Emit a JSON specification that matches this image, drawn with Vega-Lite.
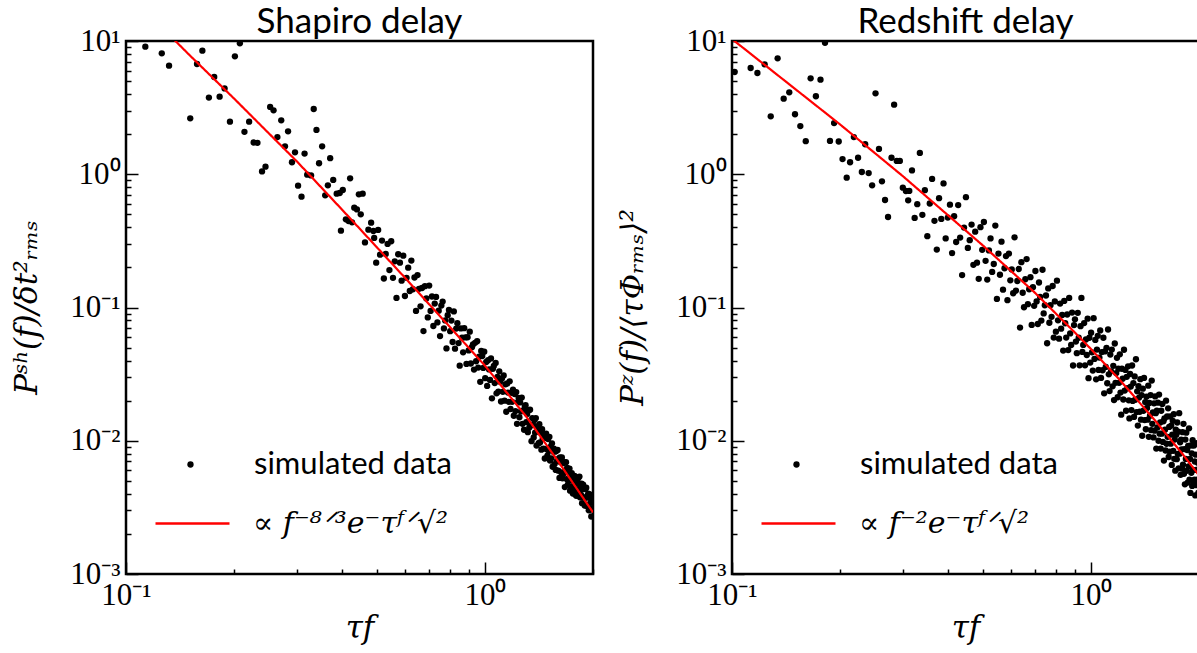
{
"$schema": "https://vega.github.io/schema/vega-lite/v6.json",
"background": "white",
"padding": {"left": 9, "top": 3, "right": 0, "bottom": 0},
"bounds": "flush",
"spacing": 139,
"config": {
  "view": {"stroke": "black", "strokeWidth": 2.5},
  "axis": {"domain": false, "grid": false, "tickColor": "black", "tickWidth": 1.5, "labelColor": "black", "titleColor": "black", "labelFont": "Liberation Serif", "labelFontSize": 31, "titleFont": "DejaVu Serif", "titleFontStyle": "italic", "titleFontWeight": "normal", "titleFontSize": 31, "labelOverlap": false, "labelFlush": false},
  "title": {"font": "Lato", "fontSize": 35, "fontWeight": "normal", "color": "black"}
},
"datasets": {
"shapiro_pts": [
{"tf":0.1132,"P":9.07},{"tf":0.1258,"P":8.08},{"tf":0.1318,"P":6.53},{"tf":0.151,"P":2.63},{"tf":0.1577,"P":6.72},{"tf":0.1632,"P":8.46},{"tf":0.1702,"P":3.76},{"tf":0.1761,"P":5.37},{"tf":0.1823,"P":3.82},{"tf":0.1882,"P":4.41},{"tf":0.1948,"P":2.48},{"tf":0.2011,"P":7.67},{"tf":0.2076,"P":9.6},{"tf":0.2138,"P":2.08},{"tf":0.2203,"P":2.48},{"tf":0.2268,"P":1.73},{"tf":0.2324,"P":1.72},{"tf":0.2393,"P":1.05},{"tf":0.2447,"P":1.14},{"tf":0.2521,"P":3.2},{"tf":0.2577,"P":3.02},{"tf":0.2641,"P":1.9},{"tf":0.2707,"P":2.54},{"tf":0.2773,"P":1.62},{"tf":0.2828,"P":2.1},{"tf":0.29,"P":1.23},{"tf":0.2957,"P":1.46},{"tf":0.3016,"P":0.821},{"tf":0.3083,"P":0.679},{"tf":0.3144,"P":1.43},{"tf":0.3198,"P":0.993},{"tf":0.3278,"P":0.98},{"tf":0.3334,"P":3.09},{"tf":0.3393,"P":2.15},{"tf":0.345,"P":1.21},{"tf":0.3519,"P":1.62},{"tf":0.3589,"P":0.695},{"tf":0.3651,"P":0.826},{"tf":0.3705,"P":1.32},{"tf":0.3778,"P":0.906},{"tf":0.3864,"P":0.715},{"tf":0.3939,"P":0.723},{"tf":0.397,"P":0.377},{"tf":0.4018,"P":0.762},{"tf":0.4098,"P":0.459},{"tf":0.4169,"P":0.446},{"tf":0.4211,"P":0.932},{"tf":0.4263,"P":0.436},{"tf":0.4325,"P":0.561},{"tf":0.4399,"P":0.545},{"tf":0.4454,"P":0.707},{"tf":0.4508,"P":0.5},{"tf":0.4564,"P":0.715},{"tf":0.4632,"P":0.308},{"tf":0.4735,"P":0.384},{"tf":0.4818,"P":0.433},{"tf":0.4889,"P":0.375},
{"tf":0.4914,"P":0.333},{"tf":0.4977,"P":0.217},{"tf":0.504,"P":0.382},{"tf":0.5103,"P":0.249},{"tf":0.5166,"P":0.318},{"tf":0.5229,"P":0.165},{"tf":0.5292,"P":0.252},{"tf":0.5355,"P":0.3},{"tf":0.5418,"P":0.191},{"tf":0.5481,"P":0.314},
{"tf":0.5544,"P":0.167},{"tf":0.5607,"P":0.222},{"tf":0.567,"P":0.118},{"tf":0.5733,"P":0.251},{"tf":0.5796,"P":0.217},{"tf":0.5859,"P":0.159},{"tf":0.5922,"P":0.245},{"tf":0.5985,"P":0.122},{"tf":0.6048,"P":0.167},{"tf":0.6111,"P":0.199},
{"tf":0.6174,"P":0.133},{"tf":0.6237,"P":0.225},{"tf":0.63,"P":0.137},{"tf":0.6363,"P":0.168},{"tf":0.6426,"P":0.0942},{"tf":0.6489,"P":0.175},{"tf":0.6552,"P":0.138},{"tf":0.6615,"P":0.102},{"tf":0.6678,"P":0.14},{"tf":0.6741,"P":0.0665},
{"tf":0.6804,"P":0.1445},{"tf":0.6867,"P":0.117},{"tf":0.693,"P":0.0843},{"tf":0.6993,"P":0.146},{"tf":0.7056,"P":0.0942},{"tf":0.7119,"P":0.121},{"tf":0.7182,"P":0.0726},{"tf":0.7245,"P":0.107},{"tf":0.7308,"P":0.12},{"tf":0.7371,"P":0.0773},
{"tf":0.7434,"P":0.0946},{"tf":0.7497,"P":0.061},{"tf":0.756,"P":0.1033},{"tf":0.7623,"P":0.1107},{"tf":0.7686,"P":0.0697},{"tf":0.7749,"P":0.08},{"tf":0.7812,"P":0.0493},{"tf":0.7875,"P":0.0875},{"tf":0.7938,"P":0.0959},{"tf":0.8001,"P":0.0664},
{"tf":0.8064,"P":0.0798},{"tf":0.8127,"P":0.0551},{"tf":0.819,"P":0.0935},{"tf":0.8253,"P":0.0491},{"tf":0.8316,"P":0.0695},{"tf":0.8379,"P":0.0762},{"tf":0.8442,"P":0.0541},{"tf":0.8505,"P":0.0366},{"tf":0.8568,"P":0.0697},{"tf":0.8631,"P":0.0594},
{"tf":0.8694,"P":0.0461},{"tf":0.8757,"P":0.07},{"tf":0.882,"P":0.0596},{"tf":0.8883,"P":0.0377},{"tf":0.8946,"P":0.0598},{"tf":0.9009,"P":0.0476},{"tf":0.9072,"P":0.0659},{"tf":0.9135,"P":0.038},{"tf":0.9198,"P":0.0504},{"tf":0.9261,"P":0.0528},
{"tf":0.9324,"P":0.0342},{"tf":0.9387,"P":0.0543},{"tf":0.945,"P":0.0395},{"tf":0.9513,"P":0.0559},{"tf":0.9576,"P":0.0354},{"tf":0.9639,"P":0.0427},{"tf":0.9702,"P":0.0277},{"tf":0.9765,"P":0.0472},{"tf":0.9828,"P":0.0432},{"tf":0.9891,"P":0.0352},
{"tf":0.9954,"P":0.0466},{"tf":1.0017,"P":0.0295},{"tf":1.008,"P":0.039},{"tf":1.0143,"P":0.0258},{"tf":1.0206,"P":0.0402},{"tf":1.0269,"P":0.0343},{"tf":1.0332,"P":0.0286},{"tf":1.0395,"P":0.0415},{"tf":1.0458,"P":0.0208},{"tf":1.0521,"P":0.0347},
{"tf":1.0584,"P":0.0364},{"tf":1.0647,"P":0.0271},{"tf":1.071,"P":0.0384},{"tf":1.0773,"P":0.0227},{"tf":1.0836,"P":0.0301},{"tf":1.0899,"P":0.0234},{"tf":1.0962,"P":0.0332},{"tf":1.1025,"P":0.0277},{"tf":1.1088,"P":0.0197},{"tf":1.1151,"P":0.0293},
{"tf":1.1214,"P":0.0233},{"tf":1.1277,"P":0.0309},{"tf":1.134,"P":0.02},{"tf":1.1403,"P":0.0265},{"tf":1.1466,"P":0.0165},{"tf":1.1529,"P":0.0269},{"tf":1.1592,"P":0.023},{"tf":1.1655,"P":0.0196},{"tf":1.1718,"P":0.0279},{"tf":1.1781,"P":0.0173},
{"tf":1.1844,"P":0.0229},{"tf":1.1907,"P":0.0196},{"tf":1.197,"P":0.0242},{"tf":1.2033,"P":0.0154},{"tf":1.2096,"P":0.0224},{"tf":1.2159,"P":0.0167},{"tf":1.2222,"P":0.0232},{"tf":1.2285,"P":0.0134},{"tf":1.2348,"P":0.0195},{"tf":1.2411,"P":0.021},
{"tf":1.2474,"P":0.015},{"tf":1.2537,"P":0.0194},{"tf":1.26,"P":0.0166},{"tf":1.2663,"P":0.0211},{"tf":1.2726,"P":0.0134},{"tf":1.2789,"P":0.0169},{"tf":1.2852,"P":0.0121},{"tf":1.2915,"P":0.018},{"tf":1.2978,"P":0.0185},{"tf":1.3041,"P":0.0138},
{"tf":1.3104,"P":0.0159},{"tf":1.3167,"P":0.0116},{"tf":1.323,"P":0.0169},{"tf":1.3293,"P":0.0126},{"tf":1.3356,"P":0.0171},{"tf":1.3419,"P":0.013},{"tf":1.3482,"P":0.00993},{"tf":1.3545,"P":0.0148},{"tf":1.3608,"P":0.0132},{"tf":1.3671,"P":0.0106},
{"tf":1.3734,"P":0.0143},{"tf":1.3797,"P":0.0115},{"tf":1.386,"P":0.0148},{"tf":1.3923,"P":0.0092},{"tf":1.3986,"P":0.0128},{"tf":1.4049,"P":0.012},{"tf":1.4112,"P":0.00959},{"tf":1.4175,"P":0.0133},{"tf":1.4238,"P":0.00971},{"tf":1.4301,"P":0.0115},
{"tf":1.4364,"P":0.00857},{"tf":1.4427,"P":0.0122},{"tf":1.449,"P":0.0104},{"tf":1.4553,"P":0.00873},{"tf":1.4616,"P":0.0111},{"tf":1.4679,"P":0.00736},{"tf":1.4742,"P":0.0105},{"tf":1.4805,"P":0.0113},{"tf":1.4868,"P":0.00863},{"tf":1.4931,"P":0.00774},
{"tf":1.4994,"P":0.0103},{"tf":1.5057,"P":0.00841},{"tf":1.512,"P":0.0107},{"tf":1.5183,"P":0.0071},{"tf":1.5246,"P":0.00902},{"tf":1.5309,"P":0.00738},{"tf":1.5372,"P":0.00957},{"tf":1.5435,"P":0.00638},{"tf":1.5498,"P":0.00828},{"tf":1.5561,"P":0.00873},
{"tf":1.5624,"P":0.00667},{"tf":1.5687,"P":0.00828},{"tf":1.575,"P":0.00604},{"tf":1.5813,"P":0.00839},{"tf":1.5876,"P":0.00705},{"tf":1.5939,"P":0.00853},{"tf":1.6002,"P":0.00596},{"tf":1.6065,"P":0.00738},{"tf":1.6128,"P":0.00526},{"tf":1.6191,"P":0.0075},
{"tf":1.6254,"P":0.00689},{"tf":1.6317,"P":0.00578},{"tf":1.638,"P":0.0075},{"tf":1.6443,"P":0.00523},{"tf":1.6506,"P":0.00679},{"tf":1.6569,"P":0.00569},{"tf":1.6632,"P":0.0069},{"tf":1.6695,"P":0.00449},{"tf":1.6758,"P":0.00597},{"tf":1.6821,"P":0.00691},
{"tf":1.6884,"P":0.00516},{"tf":1.6947,"P":0.00626},{"tf":1.701,"P":0.00468},{"tf":1.7073,"P":0.00581},{"tf":1.7136,"P":0.00511},{"tf":1.7199,"P":0.00618},{"tf":1.7262,"P":0.00422},{"tf":1.7325,"P":0.00561},{"tf":1.7388,"P":0.0045},{"tf":1.7451,"P":0.0057},
{"tf":1.7514,"P":0.00501},{"tf":1.7577,"P":0.00402},{"tf":1.764,"P":0.00535},{"tf":1.7703,"P":0.00439},{"tf":1.7766,"P":0.00545},{"tf":1.7829,"P":0.00398},{"tf":1.7892,"P":0.00472},{"tf":1.7955,"P":0.00386},{"tf":1.8018,"P":0.00526},{"tf":1.8081,"P":0.00506},
{"tf":1.8144,"P":0.00415},{"tf":1.8207,"P":0.00528},{"tf":1.827,"P":0.00433},{"tf":1.8333,"P":0.00538},{"tf":1.8396,"P":0.00376},{"tf":1.8459,"P":0.00468},{"tf":1.8522,"P":0.00392},{"tf":1.8585,"P":0.00477},{"tf":1.8648,"P":0.0034},{"tf":1.8711,"P":0.00433},
{"tf":1.8774,"P":0.00469},{"tf":1.8837,"P":0.00376},{"tf":1.89,"P":0.00435},{"tf":1.8963,"P":0.00326},{"tf":1.9026,"P":0.00434},{"tf":1.9089,"P":0.00373},{"tf":1.9152,"P":0.00444},{"tf":1.9215,"P":0.00324},{"tf":1.9278,"P":0.00386},{"tf":1.9341,"P":0.00331},
{"tf":1.9404,"P":0.00401},{"tf":1.9467,"P":0.00301},{"tf":1.953,"P":0.00374},{"tf":1.9593,"P":0.00396},{"tf":1.9656,"P":0.00304},{"tf":1.9719,"P":0.00343},{"tf":1.9782,"P":0.0027},{"tf":1.9845,"P":0.00358},{"tf":1.9908,"P":0.00309},{"tf":1.9971,"P":0.00342}
],
"shapiro_line": [
{"tf":0.13,"P":11.6},{"tf":0.1373,"P":10},{"tf":0.15,"P":7.88},{"tf":0.2,"P":3.7},{"tf":0.3,"P":1.24},{"tf":0.4,"P":0.542},{"tf":0.5,"P":0.283},{"tf":0.6104,"P":0.158},{"tf":0.8,"P":0.071},{"tf":1.0,"P":0.0366},{"tf":1.303,"P":0.0152},{"tf":1.6,"P":0.007},{"tf":2.0,"P":0.0029}
],
"redshift_pts": [
{"tf":0.1017,"P":5.85},{"tf":0.1127,"P":6.27},{"tf":0.1177,"P":5.75},{"tf":0.1233,"P":6.68},{"tf":0.1282,"P":2.72},{"tf":0.134,"P":7.41},{"tf":0.1393,"P":3.69},{"tf":0.1444,"P":4.12},{"tf":0.1498,"P":2.82},{"tf":0.155,"P":2.3},{"tf":0.1605,"P":1.77},{"tf":0.1656,"P":5.25},{"tf":0.1713,"P":3.85},{"tf":0.1764,"P":5.13},{"tf":0.1816,"P":9.7},{"tf":0.1875,"P":1.78},{"tf":0.1925,"P":2.42},{"tf":0.1983,"P":1.76},{"tf":0.2032,"P":1.3},{"tf":0.2087,"P":0.943},{"tf":0.2133,"P":1.23},{"tf":0.2185,"P":1.9},{"tf":0.2245,"P":1.33},{"tf":0.23,"P":1.04},{"tf":0.235,"P":1.68},{"tf":0.2403,"P":1.02},{"tf":0.2457,"P":0.826},{"tf":0.2511,"P":4.05},{"tf":0.2567,"P":1.55},{"tf":0.2617,"P":0.885},{"tf":0.2669,"P":0.641},{"tf":0.2721,"P":0.478},{"tf":0.2782,"P":1.33},{"tf":0.2829,"P":3.33},{"tf":0.2878,"P":1.26},{"tf":0.2935,"P":1.26},{"tf":0.2992,"P":0.793},{"tf":0.3051,"P":0.749},{"tf":0.3096,"P":0.637},
{"tf":0.3118,"P":0.75},{"tf":0.3173,"P":1.068},{"tf":0.3227,"P":0.47},{"tf":0.3282,"P":0.596},{"tf":0.3337,"P":1.446},{"tf":0.3391,"P":0.496},{"tf":0.3446,"P":0.759},{"tf":0.3501,"P":0.343},{"tf":0.3556,"P":0.603},{"tf":0.361,"P":0.923},
{"tf":0.3665,"P":0.447},{"tf":0.372,"P":0.272},{"tf":0.3774,"P":0.661},{"tf":0.3829,"P":0.462},{"tf":0.3884,"P":0.854},{"tf":0.3938,"P":0.33},{"tf":0.3993,"P":0.473},{"tf":0.4048,"P":0.591},{"tf":0.4103,"P":0.256},{"tf":0.4157,"P":0.484},
{"tf":0.4212,"P":0.31},{"tf":0.4267,"P":0.587},{"tf":0.4321,"P":0.335},{"tf":0.4376,"P":0.175},{"tf":0.4431,"P":0.398},{"tf":0.4485,"P":0.673},{"tf":0.454,"P":0.28},{"tf":0.4595,"P":0.32},{"tf":0.465,"P":0.419},{"tf":0.4704,"P":0.209},
{"tf":0.4759,"P":0.371},{"tf":0.4814,"P":0.217},{"tf":0.4868,"P":0.164},{"tf":0.4923,"P":0.401},{"tf":0.4978,"P":0.271},{"tf":0.5032,"P":0.438},{"tf":0.5087,"P":0.224},{"tf":0.5142,"P":0.162},{"tf":0.5197,"P":0.268},{"tf":0.5251,"P":0.33},
{"tf":0.5306,"P":0.185},{"tf":0.5361,"P":0.212},{"tf":0.5415,"P":0.412},{"tf":0.547,"P":0.116},{"tf":0.5525,"P":0.254},{"tf":0.5579,"P":0.176},{"tf":0.5634,"P":0.312},{"tf":0.5689,"P":0.136},{"tf":0.5744,"P":0.197},{"tf":0.5798,"P":0.243},
{"tf":0.5853,"P":0.1135},{"tf":0.5908,"P":0.254},{"tf":0.5962,"P":0.16},{"tf":0.6017,"P":0.193},{"tf":0.6072,"P":0.128},{"tf":0.6126,"P":0.336},{"tf":0.6181,"P":0.134},{"tf":0.6236,"P":0.158},{"tf":0.6291,"P":0.1945},{"tf":0.6345,"P":0.0707},
{"tf":0.64,"P":0.219},{"tf":0.6455,"P":0.129},{"tf":0.6509,"P":0.1004},{"tf":0.6564,"P":0.163},{"tf":0.6619,"P":0.231},{"tf":0.6673,"P":0.106},{"tf":0.6728,"P":0.137},{"tf":0.6783,"P":0.169},{"tf":0.6838,"P":0.074},{"tf":0.6892,"P":0.142},
{"tf":0.6947,"P":0.103},{"tf":0.7002,"P":0.188},{"tf":0.7056,"P":0.111},{"tf":0.7111,"P":0.0752},{"tf":0.7166,"P":0.154},{"tf":0.722,"P":0.12},{"tf":0.7275,"P":0.0798},{"tf":0.733,"P":0.192},{"tf":0.7385,"P":0.0903},{"tf":0.7439,"P":0.104},
{"tf":0.7494,"P":0.123},{"tf":0.7549,"P":0.0539},{"tf":0.7603,"P":0.139},{"tf":0.7658,"P":0.0768},{"tf":0.7713,"P":0.104},{"tf":0.7767,"P":0.0851},{"tf":0.7822,"P":0.145},{"tf":0.7877,"P":0.0595},{"tf":0.7932,"P":0.111},{"tf":0.7986,"P":0.0659},
{"tf":0.8041,"P":0.159},{"tf":0.8096,"P":0.0801},{"tf":0.815,"P":0.0584},{"tf":0.8205,"P":0.107},{"tf":0.826,"P":0.0694},{"tf":0.8314,"P":0.0879},{"tf":0.8369,"P":0.0475},{"tf":0.8424,"P":0.112},{"tf":0.8479,"P":0.0762},{"tf":0.8533,"P":0.0595},
{"tf":0.8588,"P":0.0886},{"tf":0.8643,"P":0.0479},{"tf":0.8697,"P":0.118},{"tf":0.8752,"P":0.0639},{"tf":0.8807,"P":0.0523},{"tf":0.8861,"P":0.0916},{"tf":0.8916,"P":0.0367},{"tf":0.8971,"P":0.0738},{"tf":0.9026,"P":0.0815},{"tf":0.908,"P":0.0555},
{"tf":0.9135,"P":0.0454},{"tf":0.919,"P":0.0912},{"tf":0.9244,"P":0.0593},{"tf":0.9299,"P":0.0368},{"tf":0.9354,"P":0.0724},{"tf":0.9408,"P":0.118},{"tf":0.9463,"P":0.0464},{"tf":0.9518,"P":0.0524},{"tf":0.9573,"P":0.0764},{"tf":0.9627,"P":0.0368},
{"tf":0.9682,"P":0.0575},{"tf":0.9737,"P":0.044},{"tf":0.9791,"P":0.0825},{"tf":0.9846,"P":0.0295},{"tf":0.9901,"P":0.0593},{"tf":0.9955,"P":0.0386},{"tf":1.001,"P":0.0646},{"tf":1.0065,"P":0.0461},{"tf":1.012,"P":0.0336},{"tf":1.0174,"P":0.0832},
{"tf":1.0229,"P":0.0411},{"tf":1.0284,"P":0.0571},{"tf":1.0338,"P":0.0289},{"tf":1.0393,"P":0.0483},{"tf":1.0448,"P":0.0613},{"tf":1.0502,"P":0.034},{"tf":1.0557,"P":0.0421},{"tf":1.0612,"P":0.0673},{"tf":1.0667,"P":0.0296},{"tf":1.0721,"P":0.0463},
{"tf":1.0776,"P":0.0338},{"tf":1.0831,"P":0.0593},{"tf":1.0885,"P":0.0227},{"tf":1.094,"P":0.0468},{"tf":1.0995,"P":0.0358},{"tf":1.1049,"P":0.0498},{"tf":1.1104,"P":0.027},{"tf":1.1159,"P":0.0684},{"tf":1.1214,"P":0.0315},{"tf":1.1268,"P":0.0236},
{"tf":1.1323,"P":0.0443},{"tf":1.1378,"P":0.0332},{"tf":1.1432,"P":0.0483},{"tf":1.1487,"P":0.0256},{"tf":1.1542,"P":0.0365},{"tf":1.1596,"P":0.0202},{"tf":1.1651,"P":0.0537},{"tf":1.1706,"P":0.0272},{"tf":1.1761,"P":0.0322},{"tf":1.1815,"P":0.0419},
{"tf":1.187,"P":0.0212},{"tf":1.1925,"P":0.0347},{"tf":1.1979,"P":0.0272},{"tf":1.2034,"P":0.0445},{"tf":1.2089,"P":0.023},{"tf":1.2143,"P":0.0157},{"tf":1.2198,"P":0.0347},{"tf":1.2253,"P":0.0292},{"tf":1.2308,"P":0.0204},{"tf":1.2362,"P":0.0482},
{"tf":1.2417,"P":0.0238},{"tf":1.2472,"P":0.034},{"tf":1.2526,"P":0.0168},{"tf":1.2581,"P":0.0302},{"tf":1.2636,"P":0.0248},{"tf":1.269,"P":0.0362},{"tf":1.2745,"P":0.0201},{"tf":1.28,"P":0.0147},{"tf":1.2855,"P":0.0317},{"tf":1.2909,"P":0.0255},
{"tf":1.2964,"P":0.017},{"tf":1.3019,"P":0.0367},{"tf":1.3073,"P":0.0199},{"tf":1.3128,"P":0.0271},{"tf":1.3183,"P":0.0151},{"tf":1.3237,"P":0.0304},{"tf":1.3292,"P":0.0203},{"tf":1.3347,"P":0.0409},{"tf":1.3402,"P":0.0164},{"tf":1.3456,"P":0.0235},
{"tf":1.3511,"P":0.013},{"tf":1.3566,"P":0.0257},{"tf":1.362,"P":0.0211},{"tf":1.3675,"P":0.0165},{"tf":1.373,"P":0.029},{"tf":1.3784,"P":0.0144},{"tf":1.3839,"P":0.022},{"tf":1.3894,"P":0.0109},{"tf":1.3949,"P":0.0246},{"tf":1.4003,"P":0.0168},
{"tf":1.4058,"P":0.0296},{"tf":1.4113,"P":0.0143},{"tf":1.4167,"P":0.0195},{"tf":1.4222,"P":0.0122},{"tf":1.4277,"P":0.0214},{"tf":1.4331,"P":0.0176},{"tf":1.4386,"P":0.0144},{"tf":1.4441,"P":0.0259},{"tf":1.4496,"P":0.0107},{"tf":1.455,"P":0.0192},
{"tf":1.4605,"P":0.0154},{"tf":1.466,"P":0.022},{"tf":1.4714,"P":0.012},{"tf":1.4769,"P":0.0283},{"tf":1.4824,"P":0.0134},{"tf":1.4878,"P":0.0163},{"tf":1.4933,"P":0.0106},{"tf":1.4988,"P":0.0191},{"tf":1.5043,"P":0.0119},{"tf":1.5097,"P":0.0215},
{"tf":1.5152,"P":0.0161},{"tf":1.5207,"P":0.00874},{"tf":1.5261,"P":0.0168},{"tf":1.5316,"P":0.0126},{"tf":1.5371,"P":0.0193},{"tf":1.5425,"P":0.01},{"tf":1.548,"P":0.0222},{"tf":1.5535,"P":0.0113},{"tf":1.559,"P":0.0137},{"tf":1.5644,"P":0.00874},
{"tf":1.5699,"P":0.0168},{"tf":1.5754,"P":0.0113},{"tf":1.5808,"P":0.0189},{"tf":1.5863,"P":0.0098},{"tf":1.5918,"P":0.014},{"tf":1.5972,"P":0.0071},{"tf":1.6027,"P":0.0147},{"tf":1.6082,"P":0.0121},{"tf":1.6137,"P":0.00845},{"tf":1.6191,"P":0.02},
{"tf":1.6246,"P":0.00949},{"tf":1.6301,"P":0.0152},{"tf":1.6355,"P":0.0107},{"tf":1.641,"P":0.0175},{"tf":1.6465,"P":0.00755},{"tf":1.6519,"P":0.0127},{"tf":1.6574,"P":0.00828},{"tf":1.6629,"P":0.0152},{"tf":1.6684,"P":0.00951},{"tf":1.6738,"P":0.013},
{"tf":1.6793,"P":0.00659},{"tf":1.6848,"P":0.0111},{"tf":1.6902,"P":0.0141},{"tf":1.6957,"P":0.0084},{"tf":1.7012,"P":0.0158},{"tf":1.7066,"P":0.00732},{"tf":1.7121,"P":0.0102},{"tf":1.7176,"P":0.00596},{"tf":1.7231,"P":0.0121},{"tf":1.7285,"P":0.0111},
{"tf":1.734,"P":0.00727},{"tf":1.7395,"P":0.0137},{"tf":1.7449,"P":0.00798},{"tf":1.7504,"P":0.0117},{"tf":1.7559,"P":0.00621},{"tf":1.7613,"P":0.0161},{"tf":1.7668,"P":0.008},{"tf":1.7723,"P":0.00975},{"tf":1.7778,"P":0.00555},{"tf":1.7832,"P":0.0102},
{"tf":1.7887,"P":0.00861},{"tf":1.7942,"P":0.00617},{"tf":1.7996,"P":0.0116},{"tf":1.8051,"P":0.00662},{"tf":1.8106,"P":0.0134},{"tf":1.816,"P":0.00565},{"tf":1.8215,"P":0.00866},{"tf":1.827,"P":0.00471},{"tf":1.8325,"P":0.0102},{"tf":1.8379,"P":0.00731},
{"tf":1.8434,"P":0.0115},{"tf":1.8489,"P":0.00595},{"tf":1.8543,"P":0.00851},{"tf":1.8598,"P":0.00485},{"tf":1.8653,"P":0.00914},{"tf":1.8707,"P":0.00641},{"tf":1.8762,"P":0.0124},{"tf":1.8817,"P":0.0051},{"tf":1.8872,"P":0.0073},{"tf":1.8926,"P":0.00406},
{"tf":1.8981,"P":0.00921},{"tf":1.9036,"P":0.00575},{"tf":1.909,"P":0.00804},{"tf":1.9145,"P":0.00458},{"tf":1.92,"P":0.0101},{"tf":1.9254,"P":0.00605},{"tf":1.9309,"P":0.00487},{"tf":1.9364,"P":0.00919},{"tf":1.9419,"P":0.00511},{"tf":1.9473,"P":0.00699},
{"tf":1.9528,"P":0.00389},{"tf":1.9583,"P":0.00786},{"tf":1.9637,"P":0.00604},{"tf":1.9692,"P":0.00464},{"tf":1.9747,"P":0.0096},{"tf":1.9801,"P":0.00511},{"tf":1.9856,"P":0.00682},{"tf":1.9911,"P":0.00407},{"tf":1.9966,"P":0.0061}
],
"redshift_line": [
{"tf":0.1,"P":10.34},{"tf":0.2,"P":2.365},{"tf":0.3,"P":0.962},{"tf":0.5,"P":0.292},{"tf":0.7,"P":0.1282},{"tf":0.9,"P":0.0653},{"tf":1.0,"P":0.0488},{"tf":1.2,"P":0.02883},{"tf":1.5,"P":0.01446},{"tf":1.8,"P":0.00795},{"tf":2.0,"P":0.0055}
]
},
"resolve": {"scale": {"color": "independent", "strokeDash": "independent", "x": "independent", "y": "independent"}, "legend": {"color": "independent", "strokeDash": "independent"}},
"hconcat": [
{
  "width": 467, "height": 533,
  "title": {"text": "Shapiro delay", "baseline": "alphabetic", "offset": -43},
  "layer": [
    {
      "data": {"name": "shapiro_pts"},
      "mark": {"type": "circle", "size": 40, "opacity": 1, "clip": true},
      "encoding": {
        "x": {"field": "tf", "type": "quantitative", "scale": {"type": "log", "domain": [0.1, 2], "nice": false},
          "axis": {"values": [0.1,0.2,0.3,0.4,0.5,0.6,0.7,0.8,0.9,1,2], "labelExpr": "datum.value == 1 ? '10⁰' : datum.value == 0.1 ? '10⁻¹' : ''", "tickSize": {"condition": {"test": "datum.value == 1 || datum.value == 0.1", "value": -12}, "value": -5}, "labelPadding": 18, "title": "τf", "titlePadding": -4}},
        "y": {"field": "P", "type": "quantitative", "scale": {"type": "log", "domain": [0.001, 10], "nice": false},
          "axis": {"values": [0.001,0.002,0.003,0.004,0.005,0.006,0.007,0.008,0.009,0.01,0.02,0.03,0.04,0.05,0.06,0.07,0.08,0.09,0.1,0.2,0.3,0.4,0.5,0.6,0.7,0.8,0.9,1,2,3,4,5,6,7,8,9,10],
            "labelExpr": "datum.value == 10 ? '10¹' : datum.value == 1 ? '10⁰' : datum.value == 0.1 ? '10⁻¹' : datum.value == 0.01 ? '10⁻²' : datum.value == 0.001 ? '10⁻³' : ''",
            "tickSize": {"condition": {"test": "indexof([0.001,0.01,0.1,1,10], datum.value) >= 0", "value": -12}, "value": -5},
            "labelPadding": 18, "title": "Pˢʰ(f)/δt²ᵣₘₛ", "titleX": -114, "titleY": 266, "titleBaseline": "top", "titleAngle": 270}},
        "color": {"datum": "simulated data", "type": "nominal",
          "scale": {"domain": ["simulated data"], "range": ["black"]},
          "legend": {"orient": "none", "legendX": 49, "legendY": 408, "title": null, "padding": 0, "labelFont": "Lato", "labelFontSize": 31, "labelLimit": 500, "labelOffset": 48, "symbolSize": 40, "symbolType": "circle", "symbolFillColor": "black", "symbolStrokeWidth": 0, "labelColor": "black"}}
      }
    },
    {
      "data": {"name": "shapiro_line"},
      "mark": {"type": "line", "color": "red", "strokeWidth": 2.2, "clip": true},
      "encoding": {
        "x": {"field": "tf", "type": "quantitative"},
        "y": {"field": "P", "type": "quantitative"},
        "strokeDash": {"datum": "∝ f⁻⁸ᐟ³e⁻τᶠᐟ√²", "type": "nominal",
          "scale": {"domain": ["∝ f⁻⁸ᐟ³e⁻τᶠᐟ√²"], "range": [[1, 0]]},
          "legend": {"orient": "none", "legendX": 28, "legendY": 444, "title": null, "padding": 0, "labelFont": "DejaVu Serif", "labelFontStyle": "italic", "labelFontSize": 30, "labelLimit": 500, "labelOffset": 22, "symbolSize": 5476, "symbolType": "stroke", "symbolStrokeColor": "red", "symbolStrokeWidth": 2.5, "labelColor": "black"}}
      }
    }
  ]
},
{
  "width": 467, "height": 533,
  "title": {"text": "Redshift delay", "baseline": "alphabetic", "offset": -43},
  "layer": [
    {
      "data": {"name": "redshift_pts"},
      "mark": {"type": "circle", "size": 40, "opacity": 1, "clip": true},
      "encoding": {
        "x": {"field": "tf", "type": "quantitative", "scale": {"type": "log", "domain": [0.1, 2], "nice": false},
          "axis": {"values": [0.1,0.2,0.3,0.4,0.5,0.6,0.7,0.8,0.9,1,2], "labelExpr": "datum.value == 1 ? '10⁰' : datum.value == 0.1 ? '10⁻¹' : ''", "tickSize": {"condition": {"test": "datum.value == 1 || datum.value == 0.1", "value": -12}, "value": -5}, "labelPadding": 18, "title": "τf", "titlePadding": -4}},
        "y": {"field": "P", "type": "quantitative", "scale": {"type": "log", "domain": [0.001, 10], "nice": false},
          "axis": {"values": [0.001,0.002,0.003,0.004,0.005,0.006,0.007,0.008,0.009,0.01,0.02,0.03,0.04,0.05,0.06,0.07,0.08,0.09,0.1,0.2,0.3,0.4,0.5,0.6,0.7,0.8,0.9,1,2,3,4,5,6,7,8,9,10],
            "labelExpr": "datum.value == 10 ? '10¹' : datum.value == 1 ? '10⁰' : datum.value == 0.1 ? '10⁻¹' : datum.value == 0.01 ? '10⁻²' : datum.value == 0.001 ? '10⁻³' : ''",
            "tickSize": {"condition": {"test": "indexof([0.001,0.01,0.1,1,10], datum.value) >= 0", "value": -12}, "value": -5},
            "labelPadding": 18, "title": "Pᶻ(f)/⟨τΦᵣₘₛ⟩²", "titleX": -114, "titleY": 266, "titleBaseline": "top", "titleAngle": 270}},
        "color": {"datum": "simulated data", "type": "nominal",
          "scale": {"domain": ["simulated data"], "range": ["black"]},
          "legend": {"orient": "none", "legendX": 49, "legendY": 408, "title": null, "padding": 0, "labelFont": "Lato", "labelFontSize": 31, "labelLimit": 500, "labelOffset": 48, "symbolSize": 40, "symbolType": "circle", "symbolFillColor": "black", "symbolStrokeWidth": 0, "labelColor": "black"}}
      }
    },
    {
      "data": {"name": "redshift_line"},
      "mark": {"type": "line", "color": "red", "strokeWidth": 2.2, "clip": true},
      "encoding": {
        "x": {"field": "tf", "type": "quantitative"},
        "y": {"field": "P", "type": "quantitative"},
        "strokeDash": {"datum": "∝ f⁻²e⁻τᶠᐟ√²", "type": "nominal",
          "scale": {"domain": ["∝ f⁻²e⁻τᶠᐟ√²"], "range": [[1, 0]]},
          "legend": {"orient": "none", "legendX": 28, "legendY": 444, "title": null, "padding": 0, "labelFont": "DejaVu Serif", "labelFontStyle": "italic", "labelFontSize": 30, "labelLimit": 500, "labelOffset": 22, "symbolSize": 5476, "symbolType": "stroke", "symbolStrokeColor": "red", "symbolStrokeWidth": 2.5, "labelColor": "black"}}
      }
    }
  ]
}
]
}
